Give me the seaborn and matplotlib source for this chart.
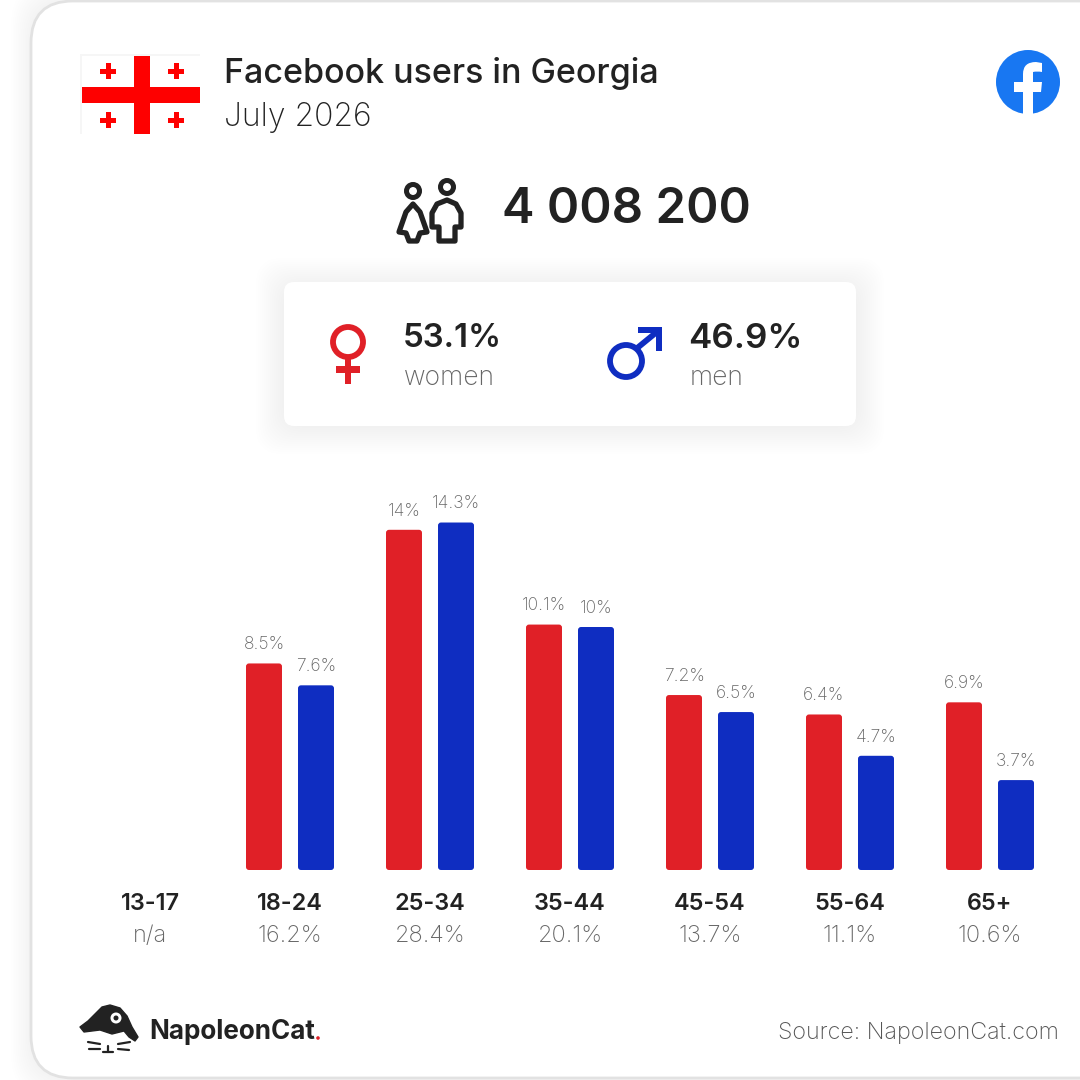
import numpy as np
import pandas as pd
import matplotlib
matplotlib.use("Agg")
import matplotlib.pyplot as plt
import seaborn as sns
from matplotlib.patches import FancyBboxPatch, Circle, Rectangle, PathPatch, Polygon
from matplotlib.path import Path

# Data
age_groups = ["13-17", "18-24", "25-34", "35-44", "45-54", "55-64", "65+"]
women = [np.nan, 8.5, 14, 10.1, 7.2, 6.4, 6.9]
men = [np.nan, 7.6, 14.3, 10, 6.5, 4.7, 3.7]
group_share = ["n/a", "16.2%", "28.4%", "20.1%", "13.7%", "11.1%", "10.6%"]
total_users = "4 008 200"
women_share = "53.1%"
men_share = "46.9%"

RED = "#e02027"
BLUE = "#0f2dc1"
DARK = "#222222"
GREY = "#666666"

sns.set_theme(style="white")
plt.rcParams["font.family"] = ["Inter", "DejaVu Sans"]

fig = plt.figure(figsize=(10.8, 10.8), dpi=100, facecolor="white")

# Background layer in pixel coordinates for the card and icons
bg = fig.add_axes([0, 0, 1, 1], zorder=0)
bg.set_xlim(0, 1080)
bg.set_ylim(1080, 0)
bg.axis("off")


def txt(x, y, s, px, weight="normal", color=DARK, ha="left", ax=bg):
    return ax.text(x, y + px * 0.09, s, fontsize=px * 0.72, fontweight=weight, color=color,
                   ha=ha, va="center")


def rbox(x0, y0, x1, y1, r, **kw):
    p = FancyBboxPatch((x0, y0), x1 - x0, y1 - y0,
                       boxstyle=f"round,pad=0,rounding_size={r}", **kw)
    bg.add_patch(p)
    return p


# Card with soft shadow
for i in range(12):
    rbox(31 - 20 + i * 1.7, 1 - 20 + i * 1.7, 1200, 1078 + 20 - i * 1.7, 44,
         fc="black", ec="none", alpha=0.0035)
rbox(31, 1, 1200, 1078, 42, fc="white", ec="#e2e2e2", lw=2)

# Flag
bg.add_patch(Rectangle((80, 54), 120, 80, fc="#f6f6f6", ec="none"))
bg.add_patch(Rectangle((82, 56), 118, 78, fc="white", ec="none"))
bg.add_patch(Rectangle((82, 87), 118, 16, fc="#fe0000", ec="none"))
bg.add_patch(Rectangle((134, 56), 16, 78, fc="#fe0000", ec="none"))
for cx, cy in [(108, 71), (176, 71), (108, 120), (176, 120)]:
    bg.add_patch(Rectangle((cx - 8, cy - 2.5), 16, 5, fc="#fe0000", ec="none"))
    bg.add_patch(Rectangle((cx - 2.5, cy - 8), 5, 16, fc="#fe0000", ec="none"))

txt(224, 70, "Facebook users in Georgia", 34, weight="medium")
txt(224, 115, "July 2026", 32, weight="light")

# Facebook logo
bg.add_patch(Circle((1028, 82), 32, fc="#1877f2", ec="none"))
f_verts = [(1023, 114), (1023, 92), (1014, 92), (1014, 82), (1023, 82), (1023, 74),
           (1023, 62), (1036, 62), (1042, 63), (1042, 72), (1037, 71), (1033, 72),
           (1033, 76), (1033, 82), (1042, 82), (1041, 92), (1033, 92), (1033, 114),
           (1023, 114)]
f_codes = [Path.MOVETO, Path.LINETO, Path.LINETO, Path.LINETO, Path.LINETO, Path.LINETO,
           Path.CURVE3, Path.CURVE3, Path.LINETO, Path.LINETO, Path.CURVE3, Path.CURVE3,
           Path.LINETO, Path.LINETO, Path.LINETO, Path.LINETO, Path.LINETO, Path.LINETO,
           Path.CLOSEPOLY]
bg.add_patch(PathPatch(Path(f_verts, f_codes), fc="white", ec="none"))

# People icon
for cx, cy in [(413, 191), (447, 187)]:
    bg.add_patch(Circle((cx, cy), 6.5, fc="white", ec=DARK, lw=3.6))
bg.add_patch(Polygon([(413, 204), (420, 212), (427, 232), (420, 233), (417, 241),
                      (409, 241), (406, 233), (399, 232), (406, 212)],
                     fc="white", ec=DARK, lw=3.8, joinstyle="round"))
bg.add_patch(Polygon([(447, 200), (456, 204), (461, 213), (461, 227), (455, 227),
                      (455, 241), (439, 241), (439, 227), (432, 227), (432, 213),
                      (437, 204)],
                     fc="white", ec=DARK, lw=3.8, joinstyle="round"))
txt(502, 206, total_users, 49, weight="semibold")

# Gender panel
for i in range(14):
    rbox(284 - 28 + i * 2, 282 - 24 + i * 2, 856 + 28 - i * 2, 426 + 28 - i * 2, 26,
         fc="black", ec="none", alpha=0.002)
rbox(284, 282, 856, 426, 10, fc="white", ec="none")

bg.add_patch(Circle((348, 342), 15, fc="none", ec=RED, lw=4.2))
bg.add_patch(Rectangle((345, 358), 6, 26, fc=RED, ec="none"))
bg.add_patch(Rectangle((336, 366), 24, 7, fc=RED, ec="none"))
bg.add_patch(Circle((626, 361), 16, fc="none", ec=BLUE, lw=4.2))
bg.plot([636, 658], [349, 331], color=BLUE, lw=4.2, solid_capstyle="butt")
bg.add_patch(Polygon([(638, 327), (662, 327), (662, 351), (656, 351), (656, 333), (638, 333)],
                     fc=BLUE, ec="none"))
txt(403, 336, women_share, 33, weight="semibold")
txt(404, 376, "women", 26.5, weight="light", color=GREY)
txt(688, 336, men_share, 35, weight="semibold")
txt(690, 376, "men", 26.5, weight="light", color=GREY)

# Bars, axes placed so that one percent is about 24.3 px
ax = fig.add_axes([80 / 1080, (1080 - 870) / 1080, 980 / 1080, 380 / 1080], zorder=1)
ax.patch.set_alpha(0)
df = pd.DataFrame({
    "age": age_groups * 2,
    "share": women + men,
    "gender": ["women"] * 7 + ["men"] * 7,
})
sns.barplot(data=df, x="age", y="share", hue="gender", order=age_groups,
            hue_order=["women", "men"], palette=[RED, BLUE], width=0.743, gap=0.308,
            saturation=1, legend=False, ax=ax)
ax.set_xlim(-0.5, 6.5)
ax.set_ylim(0, 380 / 24.3)
sns.despine(ax=ax, left=True, bottom=True)
ax.set_xlabel("")
ax.set_ylabel("")
ax.set_yticks([])
ax.tick_params(axis="x", length=0, pad=16.5, labelsize=23.5 * 0.72)
for lab in ax.get_xticklabels():
    lab.set_fontweight("semibold")
    lab.set_color(DARK)

# Round the corners of the bars seaborn drew, and label them
x_unit = 980 / 7
y_unit = 24.3
for cont in ax.containers:
    for bar in list(cont):
        h = bar.get_height()
        if np.isnan(h) or h == 0:
            bar.set_visible(False)
            continue
        x0 = bar.get_x()
        w = bar.get_width()
        ax.add_patch(FancyBboxPatch((x0, 0), w, h,
                                    boxstyle=f"round,pad=0,rounding_size={3 / x_unit}",
                                    mutation_aspect=x_unit / y_unit,
                                    fc=bar.get_facecolor(), ec="none"))
        bar.set_visible(False)
        ax.annotate(f"{h:g}%", (x0 + w / 2, h), xytext=(0, 13.5), textcoords="offset points",
                    ha="center", va="center", fontsize=17.5 * 0.72, fontweight="light",
                    color=GREY, annotation_clip=False)

for i, share in enumerate(group_share):
    bg.text(150 + 140 * i, 936, share, fontsize=23.5 * 0.72, fontweight="light", color=GREY,
            ha="center", va="center")

# Footer logo
logo = [(80, 1027), (88, 1021), (96, 1013), (102, 1007), (110, 1005), (120, 1008), (127, 1016),
        (132, 1027), (138, 1037), (135, 1041), (129, 1037), (124, 1031), (112, 1034),
        (100, 1030), (92, 1031), (84, 1032)]
bg.add_patch(Polygon(logo, fc=DARK, ec=DARK, lw=1, joinstyle="round"))
bg.add_patch(Circle((116, 1018), 5.5, fc="white", ec="none"))
bg.add_patch(Circle((116, 1018), 2.5, fc=DARK, ec="none"))
for xs, ys in [((88, 100), (1042, 1044)), ((89, 100), (1049, 1049)),
               ((118, 130), (1044, 1042)), ((118, 129), (1049, 1050)),
               ((103, 113), (1052, 1052)), ((108, 108), (1046, 1052))]:
    bg.plot(xs, ys, color=DARK, lw=1.6)
txt(149, 1030, "NapoleonCat", 26, weight="bold")
bg.add_patch(Circle((318, 1038), 1.8, fc=RED, ec="none"))
txt(1059, 1031, "Source: NapoleonCat.com", 23.3, weight="light", color="#555555", ha="right")

fig.savefig("out.png", dpi=100)
